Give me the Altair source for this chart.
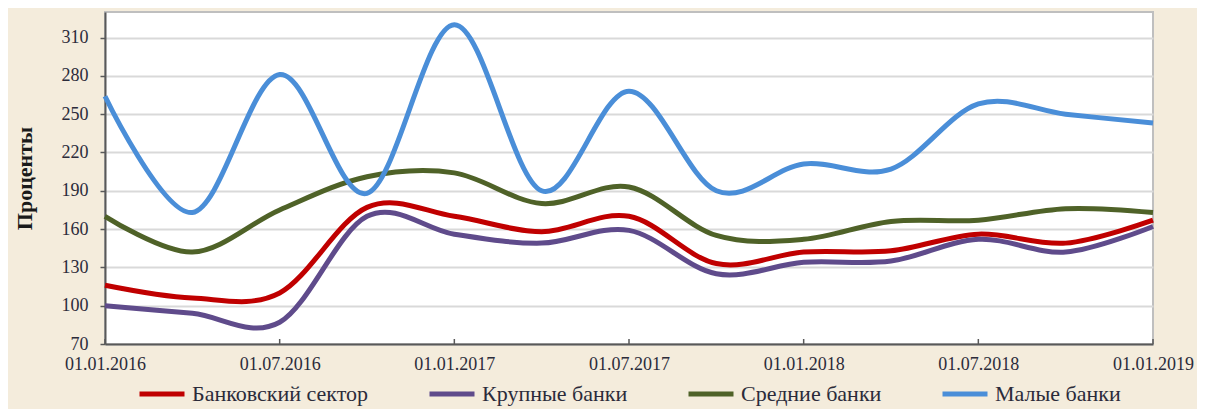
import altair as alt
import pandas as pd

quarters = ["01.01.2016", "01.04.2016", "01.07.2016", "01.10.2016",
            "01.01.2017", "01.04.2017", "01.07.2017", "01.10.2017",
            "01.01.2018", "01.04.2018", "01.07.2018", "01.10.2018",
            "01.01.2019"]
series_names = ["Банковский сектор", "Крупные банки", "Средние банки", "Малые банки"]
bank_sector = [116, 106, 110, 177, 170, 158, 170, 133, 142, 143, 156, 149, 167]
large_banks = [100, 94, 87, 170, 156, 149, 159, 125, 134, 135, 152, 142, 162]
medium_banks = [170, 142, 175, 201, 204, 180, 193, 155, 152, 166, 167, 176, 173]
small_banks = [264, 173, 281, 188, 320, 190, 268, 190, 211, 207, 258, 250, 243]
colors = ["#c00000", "#5f4b8b", "#4f6228", "#4a8ed8"]
y_ticks = [70, 100, 130, 160, 190, 220, 250, 280, 310]
x_tick_idx = [0, 2, 4, 6, 8, 10, 12]

rows = []
for name, vals in zip(series_names, [bank_sector, large_banks, medium_banks, small_banks]):
    for i, (q, v) in enumerate(zip(quarters, vals)):
        rows.append({"idx": i, "date": q, "series": name, "value": v})
df = pd.DataFrame(rows)

label_arr = "[" + ",".join("'" + quarters[i] + "'" for i in range(len(quarters))) + "]"

FONT = "Liberation Serif"
TXT = "#2b2b3a"

x_enc = alt.X("idx:Q",
              scale=alt.Scale(domain=[0, 12], nice=False, zero=False),
              axis=alt.Axis(values=x_tick_idx, labelExpr=label_arr + "[datum.value]",
                            title=None, grid=False, ticks=False,
                            labelFont=FONT, labelFontSize=18, labelColor=TXT,
                            labelPadding=11, domainColor="#595959", domainWidth=2,
                            labelFlush=False))

lines = alt.Chart(df).mark_line(interpolate="cardinal", strokeWidth=5).encode(
    x=x_enc,
    y=alt.Y("value:Q",
            scale=alt.Scale(domain=[70, 330], nice=False, zero=False),
            axis=alt.Axis(values=y_ticks, title="Проценты", titleFont=FONT,
                          titleFontSize=22, titleFontWeight="bold", titleColor="#1a1a1a",
                          titlePadding=25,
                          labelFont=FONT, labelFontSize=18, labelColor=TXT,
                          labelPadding=12, tickSize=5, tickColor="#595959", tickWidth=1.5,
                          domainColor="#595959", domainWidth=2,
                          gridColor="#d9d9d9", gridWidth=2)),
    color=alt.Color("series:N",
                    scale=alt.Scale(domain=series_names, range=colors),
                    sort=series_names,
                    legend=alt.Legend(orient="none", legendX=32, legendY=357,
                                      direction="horizontal", columns=4,
                                      title=None, symbolType="stroke",
                                      symbolSize=2025, symbolStrokeWidth=5,
                                      labelFont=FONT, labelFontSize=22,
                                      labelColor=TXT, labelOffset=5,
                                      columnPadding=50, labelLimit=400)),
    order=alt.Order("idx:Q"),
)

tick_df = pd.DataFrame({"idx": x_tick_idx})
xticks = alt.Chart(tick_df).mark_rule(color="#595959", strokeWidth=1.5).encode(
    x=alt.X("idx:Q"),
    y=alt.value(332),
    y2=alt.value(327),
)

chart = alt.layer(lines, xticks).properties(
    width=1048, height=332,
    autosize=alt.AutoSizeParams(type="none"),
    padding={"left": 97, "top": 4, "right": 44, "bottom": 65},
    background="#f4ecdc",
).configure_view(fill="white", stroke="#bfbfbf", strokeWidth=2)

chart.save("out.html", embed_options={"renderer": "svg", "actions": False})
